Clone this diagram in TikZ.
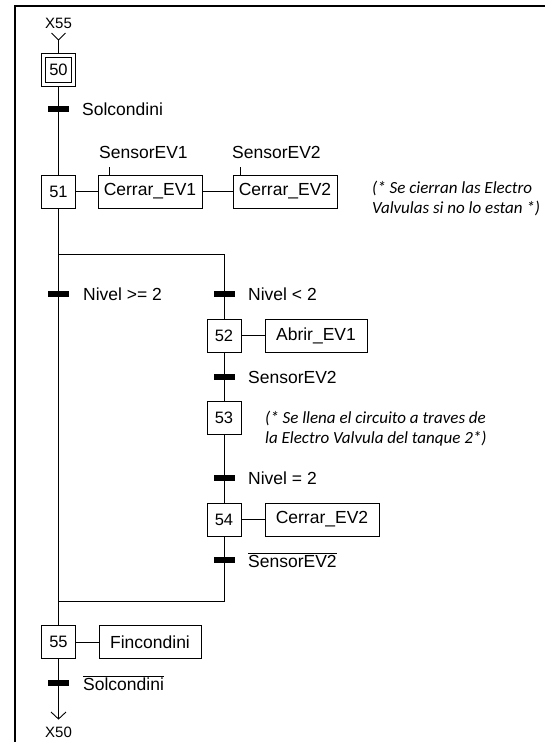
\documentclass[tikz,border=0pt]{standalone}
\usepackage{fontspec}
\setmainfont{Liberation Sans}
\newfontfamily\cmtfont{Carlito}
\begin{document}
\begin{tikzpicture}[x=1pt,y=-1pt,
  stepbox/.style={draw, line width=1pt, minimum width=34pt, minimum height=33pt, inner sep=0pt, font=\fontsize{16.5}{16.5}\selectfont},
  actbox/.style={draw, line width=1pt, minimum height=33pt, inner sep=0pt, font=\fontsize{17.5}{17.5}\selectfont},
  tbar/.style={fill=black, minimum width=21pt, minimum height=6pt, inner sep=0pt},
  lbl/.style={anchor=west, inner sep=0pt, font=\fontsize{17.5}{17.5}\selectfont},
  xlbl/.style={inner sep=0pt, font=\fontsize{15}{15}\selectfont},
  wire/.style={line width=0.9pt},
  cmt/.style={anchor=west, align=left, inner sep=0pt, font=\cmtfont\itshape\fontsize{17}{20.5}\selectfont}
]
\useasboundingbox (0,0) rectangle (545,742);
% frame
\draw[line width=2.5pt] (15,742) -- (15,6) -- (545,6);

% top
\node[xlbl] (x55) at (58.5,23) {X55};
\coordinate (v1) at (58.5,40);
\coordinate (v1l) at (51.5,33);
\coordinate (v1r) at (65.5,33);
\node[stepbox] (s50) at (58.5,69.5) {};
\node[draw, line width=1pt, minimum width=26pt, minimum height=25pt, inner sep=0pt, font=\fontsize{16.5}{16.5}\selectfont] (s50i) at (58.5,69.5) {50};

\node[stepbox] (s51) at (58.5,191.5) {51};
\node[actbox, minimum width=104pt] (a1) at (150,191.5) {Cerrar\_EV1};
\node[actbox, minimum width=104pt] (a2) at (285,191.5) {Cerrar\_EV2};
\node[lbl] (q1) at (99,152) {SensorEV1};
\node[lbl] (q2) at (232,152) {SensorEV2};
\coordinate (k1) at (109,167);
\coordinate (k2) at (240,167);
\node[cmt] (c1) at (372,198.5) {(* Se cierran las Electro\\Valvulas si no lo estan *)};

\coordinate (d1) at (58.5,254);
\coordinate (d2) at (224,254);
\coordinate (e1) at (58.5,601);
\coordinate (e2) at (224,601);

\node[stepbox] (s52) at (224,335.5) {52};
\node[actbox, minimum width=102pt] (a3) at (316,335.5) {Abrir\_EV1};
\node[stepbox] (s53) at (224,417.5) {53};
\node[cmt] (c2) at (265,428.5) {(* Se llena el circuito a traves de\\la Electro Valvula del tanque 2*)};
\node[stepbox] (s54) at (224,519.5) {54};
\node[actbox, minimum width=114pt] (a4) at (322,519.5) {Cerrar\_EV2};

\node[stepbox] (s55) at (58.5,642) {55};
\node[actbox, minimum width=102pt] (a5) at (150,642) {Fincondini};

\coordinate (v2) at (58.5,719);
\coordinate (v2l) at (51,712);
\coordinate (v2r) at (66,712);
\node[xlbl] (x50) at (58.5,732) {X50};

% wires
\draw[wire] (v1l) -- (v1) -- (v1r);
\draw[wire] (v1) -- (s50.north);
\draw[wire] (s50.south) -- (s51.north);
\draw[wire] (s51.east) -- (a1.west);
\draw[wire] (a1.east) -- (a2.west);
\draw[wire] (k1) -- (k1 |- a1.north);
\draw[wire] (k2) -- (k2 |- a2.north);
\draw[wire] (s51.south) -- (s55.north);
\draw[wire] (d1) -- (d2) -- (s52.north);
\draw[wire] (s52.east) -- (a3.west);
\draw[wire] (s52.south) -- (s53.north);
\draw[wire] (s53.south) -- (s54.north);
\draw[wire] (s54.east) -- (a4.west);
\draw[wire] (s54.south) -- (e2) -- (e1);
\draw[wire] (s55.east) -- (a5.west);
\draw[wire] (s55.south) -- (v2);
\draw[wire] (v2l) -- (v2) -- (v2r);

% transitions
\node[tbar] (t1) at (58.5,109) {};
\node[lbl] (l1) at (82,109) {Solcondini};
\node[tbar] (t2) at (58.5,294) {};
\node[lbl] (l2) at (83,294) {Nivel >= 2};
\node[tbar] (t3) at (224,294) {};
\node[lbl] (l3) at (248,294) {Nivel < 2};
\node[tbar] (t4) at (224,377) {};
\node[lbl] (l4) at (248,377) {SensorEV2};
\node[tbar] (t5) at (224,478) {};
\node[lbl] (l5) at (248,478) {Nivel = 2};
\node[tbar] (t6) at (224,560) {};
\node[lbl] (l6) at (248,560) {$\overline{\mbox{SensorEV2}}$};
\node[tbar] (t7) at (58.5,683) {};
\node[lbl] (l7) at (83,683) {$\overline{\mbox{Solcondini}}$};
\end{tikzpicture}
\end{document}
